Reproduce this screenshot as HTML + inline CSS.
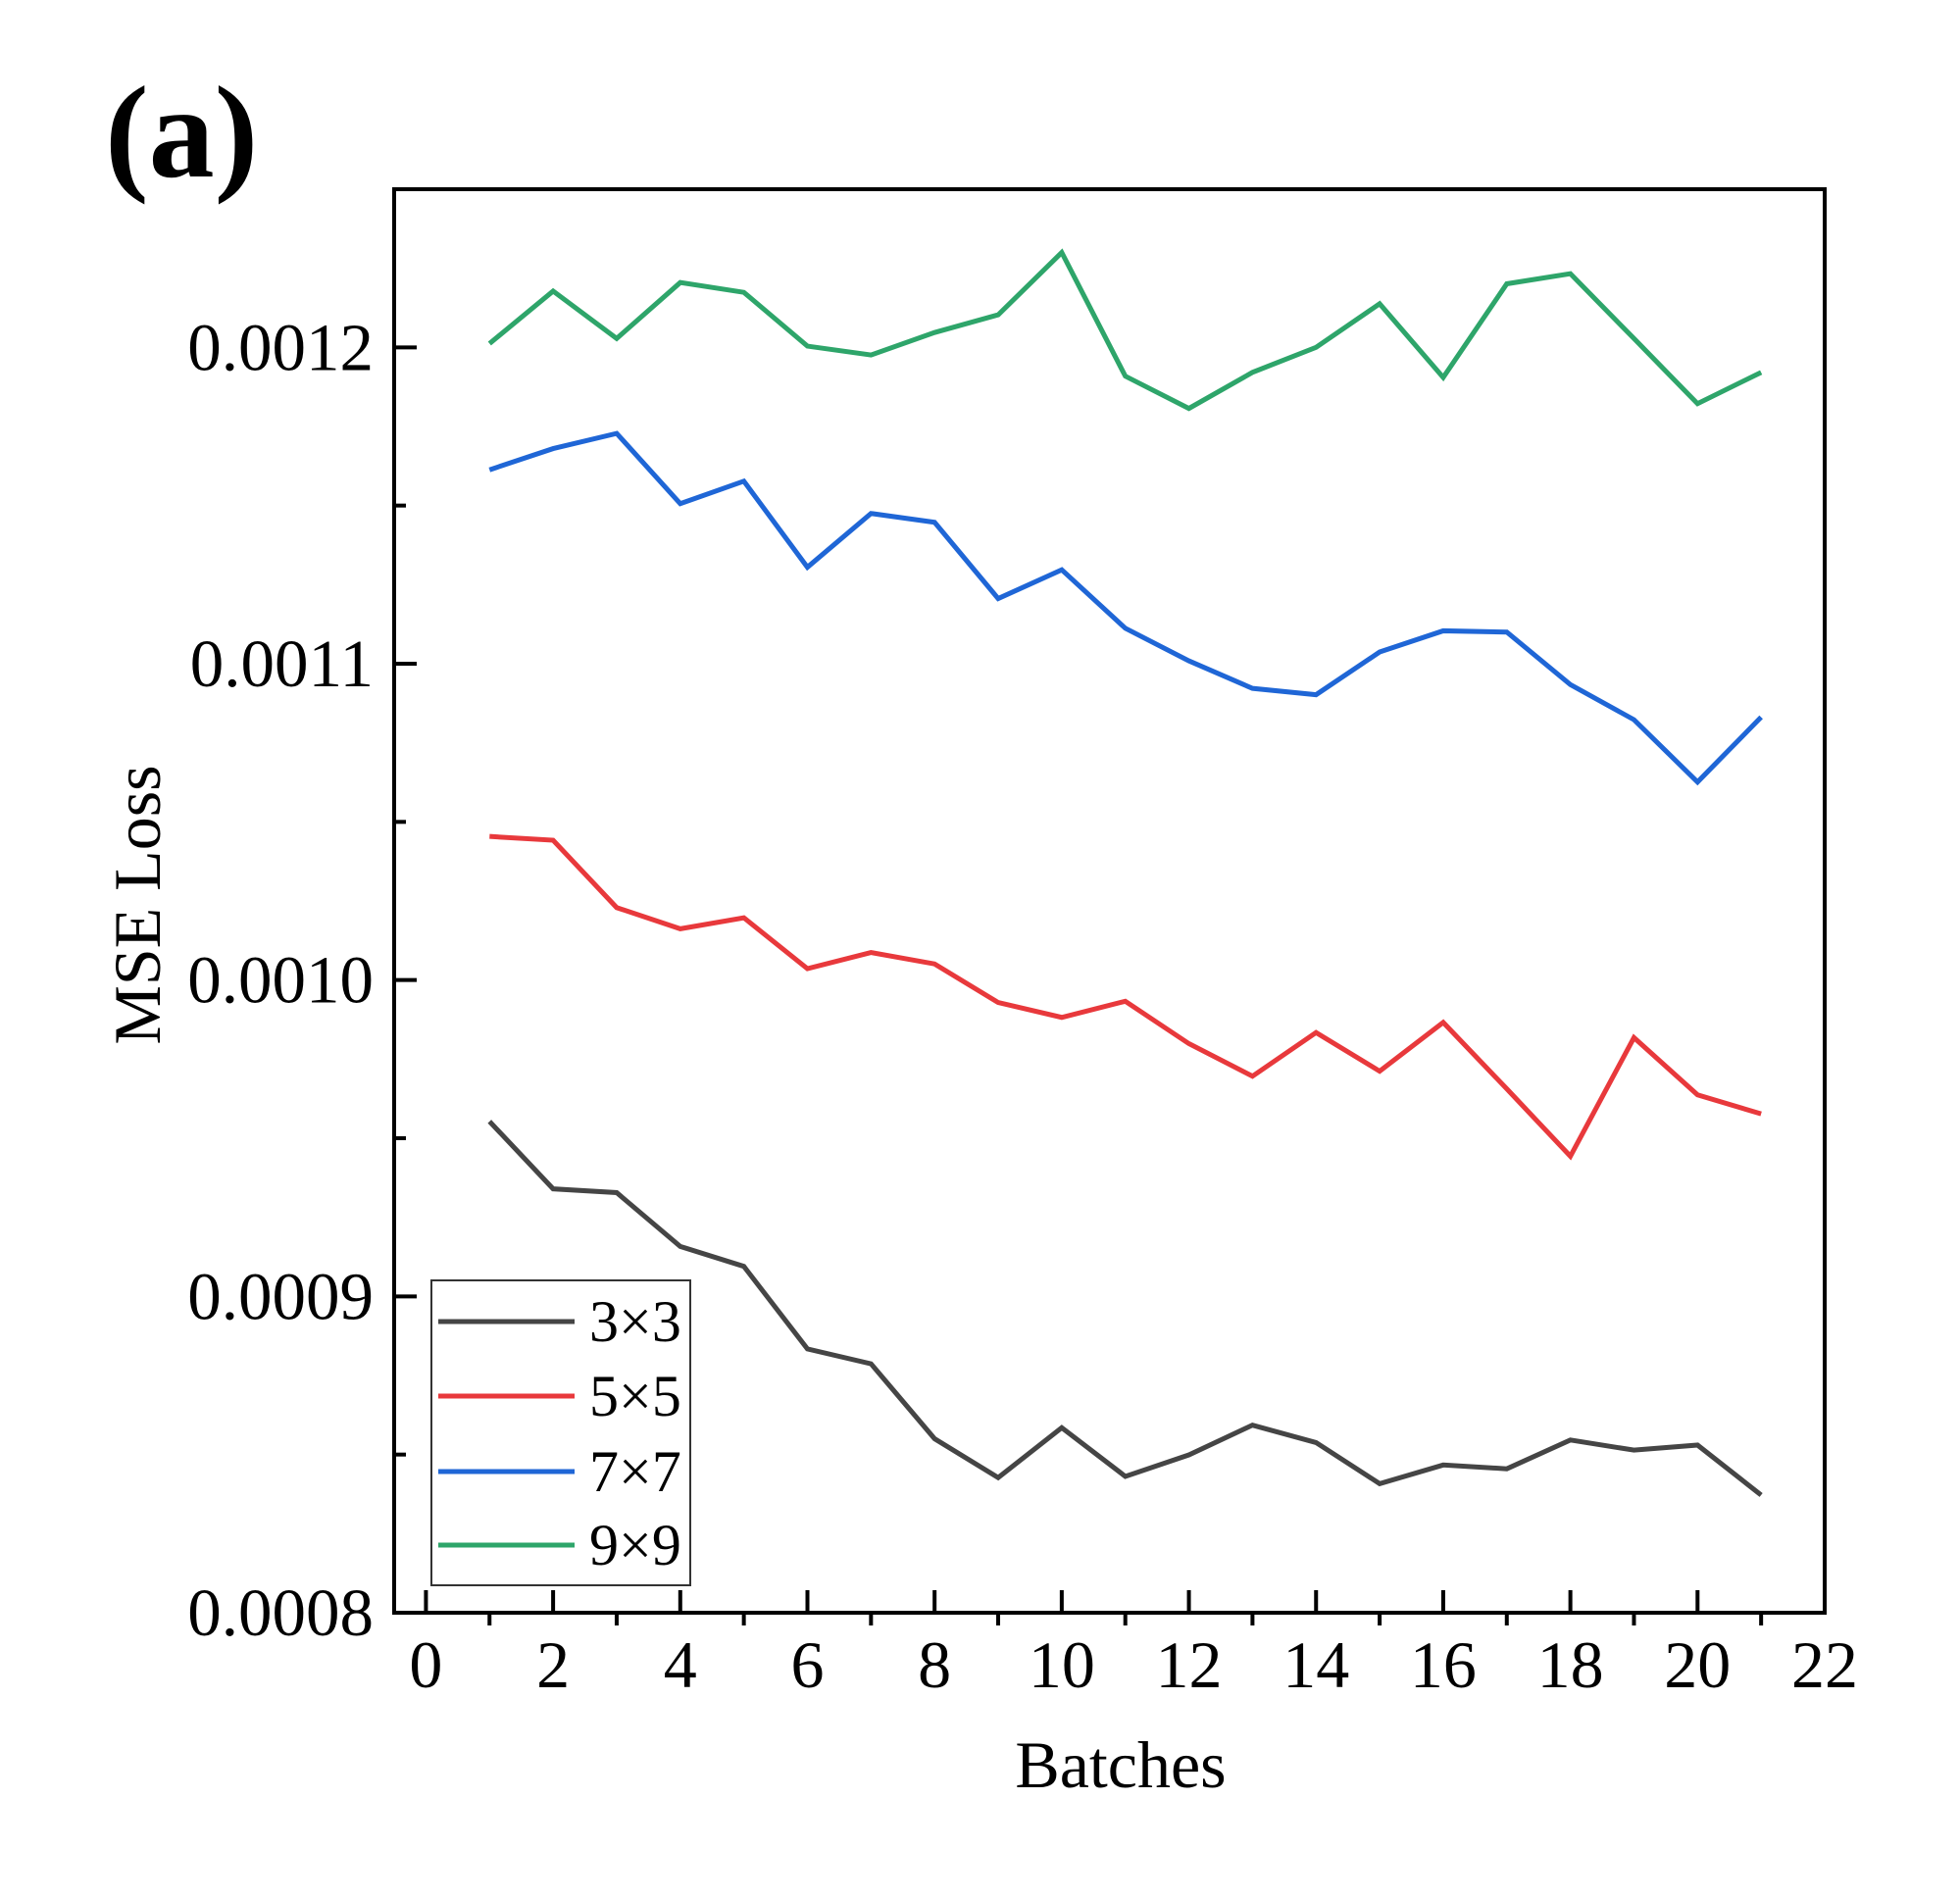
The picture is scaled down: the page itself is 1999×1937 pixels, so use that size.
<!DOCTYPE html>
<html><head><meta charset="utf-8"><style>
html,body{margin:0;padding:0;background:#fff;}
svg{display:block;font-family:"Liberation Serif",serif;}
</style></head><body>
<svg id="chart" width="1999" height="1937" viewBox="0 0 1999 1937" xmlns="http://www.w3.org/2000/svg">
<rect width="1999" height="1937" fill="#fff"/>
<text x="107" y="180" font-size="134" font-weight="bold">(a)</text>
<g id="plot"></g>
</svg>
<script>
const batches=[1,2,3,4,5,6,7,8,9,10,11,12,13,14,15,16,17,18,19,20,21];
const s3=[9.553,9.340,9.328,9.158,9.095,8.834,8.787,8.550,8.427,8.585,8.431,8.499,8.593,8.538,8.408,8.467,8.455,8.546,8.514,8.530,8.372];
const s5=[10.454,10.442,10.229,10.162,10.197,10.036,10.087,10.051,9.929,9.882,9.933,9.799,9.696,9.834,9.712,9.866,9.656,9.443,9.818,9.637,9.577];
const s7=[11.613,11.680,11.728,11.506,11.577,11.305,11.475,11.447,11.206,11.297,11.112,11.009,10.922,10.902,11.037,11.104,11.100,10.934,10.823,10.626,10.831];
const s9=[12.012,12.178,12.028,12.205,12.174,12.004,11.976,12.047,12.103,12.300,11.909,11.807,11.921,12.000,12.138,11.905,12.201,12.233,12.028,11.822,11.921];
const seriesNames=["3×3","5×5","7×7","9×9"];
const xTicks=[0,2,4,6,8,10,12,14,16,18,20,22];
const yTicks=[8,9,10,11,12];
const yTickLabels=["0.0008","0.0009","0.0010","0.0011","0.0012"];

const NS="http://www.w3.org/2000/svg";
const L=402,R=1861,T=193,B=1645;
const xMin=-0.5,xMax=22,yMin=8,yMax=12.5;
const xs=v=>L+(v-xMin)/(xMax-xMin)*(R-L);
const ys=v=>B-(v-yMin)/(yMax-yMin)*(B-T);
const g=document.getElementById('plot');
function mk(tag,attrs){const e=document.createElementNS(NS,tag);for(const k in attrs)e.setAttribute(k,attrs[k]);g.appendChild(e);return e;}

const colors=["#454545","#e8393c","#1f66d6","#2ea56a"];
const all=[s3,s5,s7,s9];
all.forEach((s,i)=>{
  const p=mk('polyline',{points:s.map((v,j)=>xs(batches[j])+','+ys(v)).join(' '),fill:'none',stroke:colors[i],'stroke-width':5,'stroke-linejoin':'miter'});
  
  
});

const fr=mk('rect',{x:L,y:T,width:R-L,height:B-T,fill:'none',stroke:'#000','stroke-width':4});



xTicks.forEach(v=>{
  const t=mk('line',{x1:xs(v),x2:xs(v),y1:B,y2:B-23,stroke:'#000','stroke-width':4});
  
  
  const lb=mk('text',{x:xs(v),y:1721,'font-size':68,'text-anchor':'middle'});
  lb.textContent=v;
  
  
});
for(let v=1;v<22;v+=2){
  const t=mk('line',{x1:xs(v),x2:xs(v),y1:B,y2:B+13,stroke:'#000','stroke-width':4});
  
  
}
yTicks.forEach((v,i)=>{
  const t=mk('line',{x1:L,x2:L+23,y1:ys(v),y2:ys(v),stroke:'#000','stroke-width':4});
  
  
  const lb=mk('text',{x:381,y:ys(v)+23,'font-size':69,'text-anchor':'end'});
  lb.textContent=yTickLabels[i];
  
  
});
for(let v=8.5;v<12.5;v+=1){
  const t=mk('line',{x1:L,x2:L+12,y1:ys(v),y2:ys(v),stroke:'#000','stroke-width':4});
  
  
}
const xt=mk('text',{x:1143,y:1823,'font-size':68,'text-anchor':'middle'});
xt.textContent='Batches';


const yt=mk('text',{x:0,y:0,'font-size':68,'text-anchor':'middle',transform:'translate(163,923) rotate(-90)'});
yt.textContent='MSE Loss';



const lg=mk('rect',{x:440,y:1306,width:264,height:311,fill:'#fff',stroke:'#333','stroke-width':2});


const ly=[1348,1424,1501,1576];
seriesNames.forEach((n,i)=>{
  const ln=mk('line',{x1:447,x2:586,y1:ly[i],y2:ly[i],stroke:colors[i],'stroke-width':5});
  
  
  const tx=mk('text',{x:601,y:ly[i]+20,'font-size':60});
  tx.textContent=n;
  
  
});
</script>
</body></html>
